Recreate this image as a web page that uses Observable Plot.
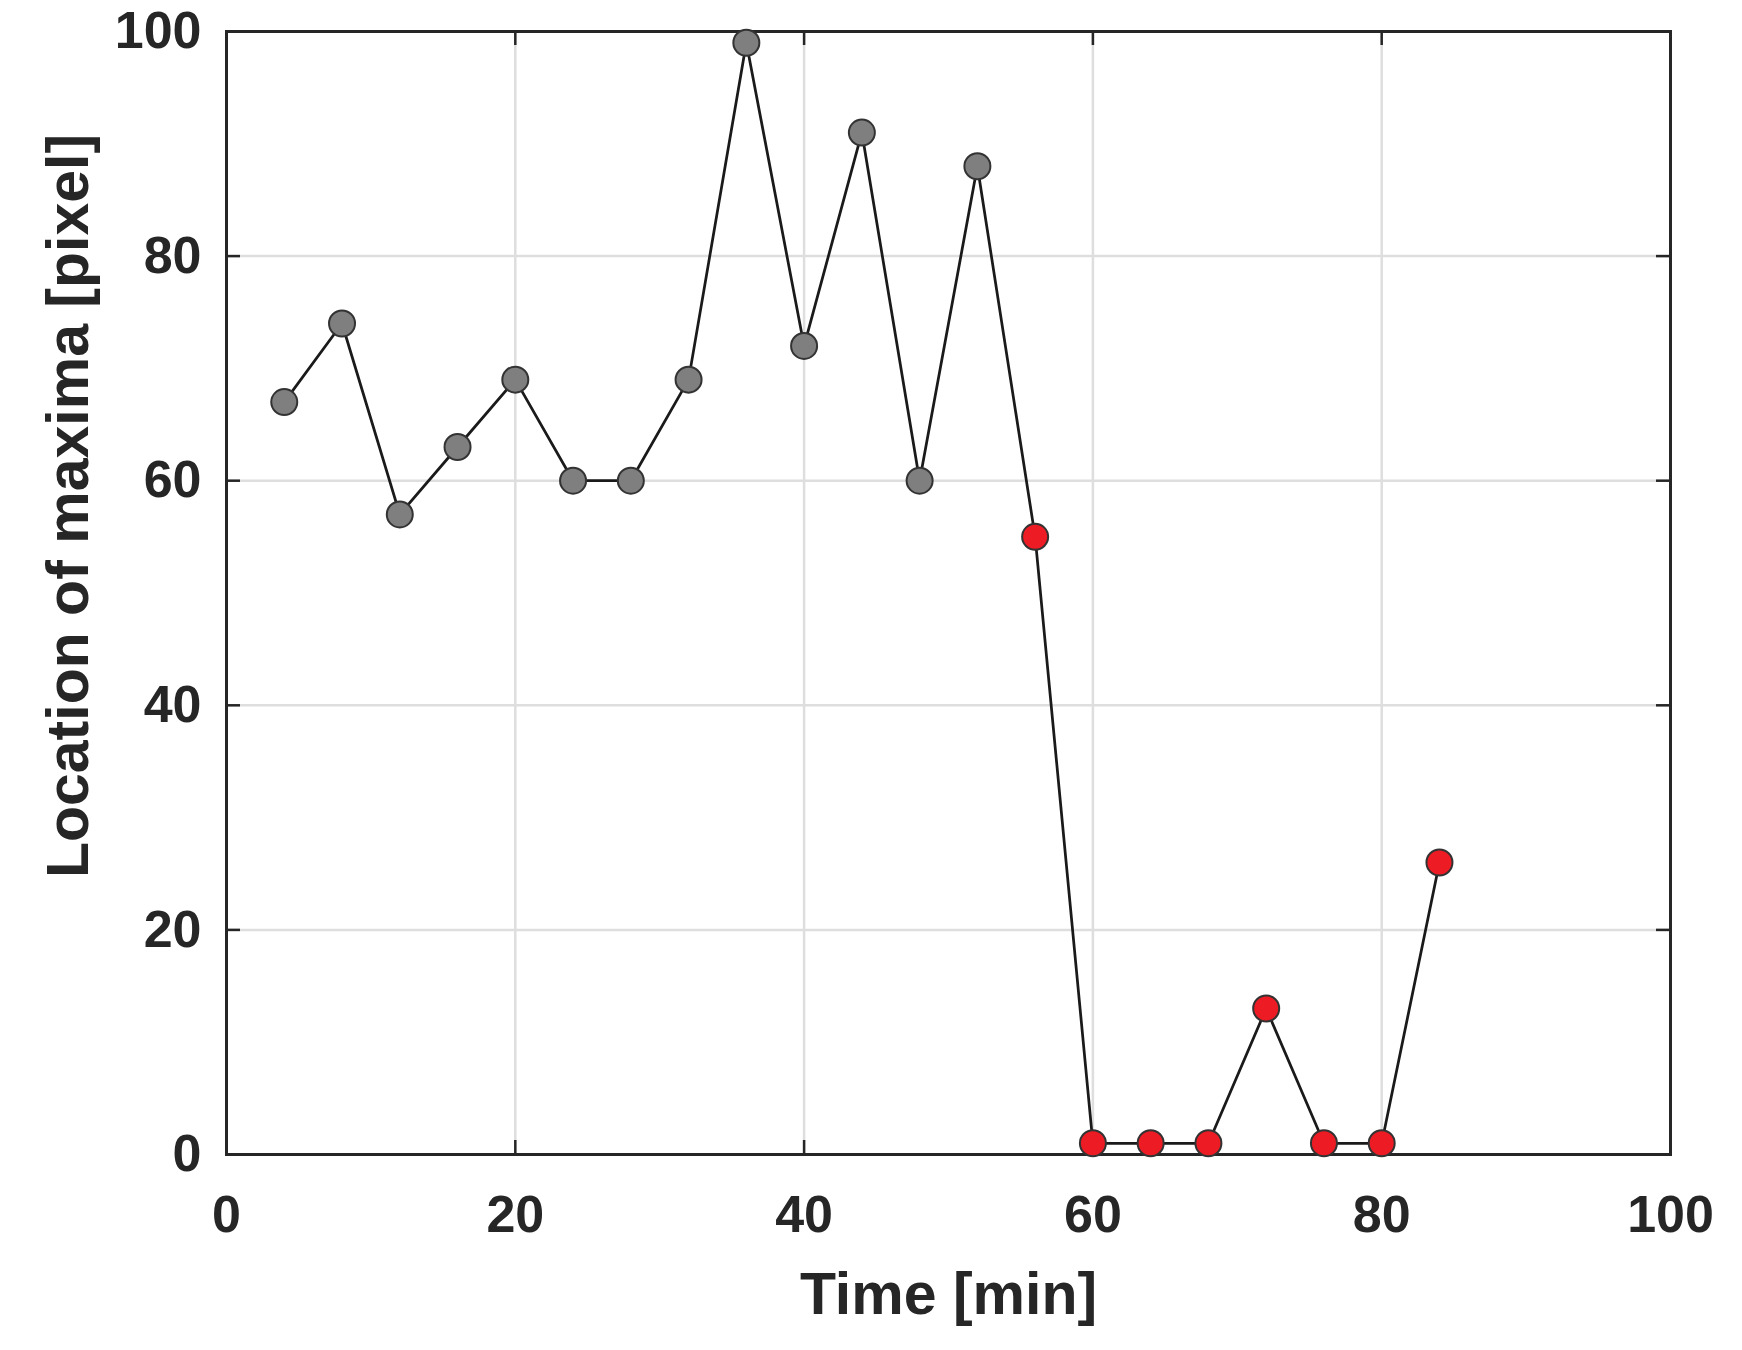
<!DOCTYPE html>
<html>
<head>
<meta charset="utf-8">
<script src="https://cdn.jsdelivr.net/npm/d3@7"></script>
<script src="https://cdn.jsdelivr.net/npm/@observablehq/plot@0.6"></script>
<style>
  html, body { margin: 0; padding: 0; background: #ffffff; }
  #chart svg { display: block; }
</style>
</head>
<body>
<div id="chart"></div>
<script>
// ---- data ----
const times  = [4, 8, 12, 16, 20, 24, 28, 32, 36, 40, 44, 48, 52, 56, 60, 64, 68, 72, 76, 80, 84];
const values = [67, 74, 57, 63, 69, 60, 60, 69, 99, 72, 91, 60, 88, 55, 1, 1, 1, 13, 1, 1, 26];
const phases = ["before","before","before","before","before","before","before","before","before","before","before","before","before",
                "after","after","after","after","after","after","after","after"];
const xTicks = [0, 20, 40, 60, 80, 100];
const yTicks = [0, 20, 40, 60, 80, 100];
const xLabel = "Time [min]";
const yLabel = "Location of maxima [pixel]";

const data = times.map((t, i) => ({t, v: values[i], phase: phases[i]}));

const W = 1742, H = 1350;
const mL = 226, mR = 72, mT = 31, mB = 196;
const pw = W - mL - mR, ph = H - mT - mB;
const ink = "#262626";

const chart = Plot.plot({
  width: W,
  height: H,
  marginLeft: mL,
  marginRight: mR,
  marginTop: mT,
  marginBottom: mB,
  style: {
    fontFamily: "'Liberation Sans', Arial, sans-serif",
    fontWeight: "bold",
    color: ink,
    background: "#ffffff",
    overflow: "visible"
  },
  x: {domain: [0, 100]},
  y: {domain: [0, 100]},
  marks: [
    Plot.ruleX(xTicks, {x: d => d, stroke: "#dedede", strokeWidth: 2.5}),
    Plot.ruleY(yTicks, {y: d => d, stroke: "#dedede", strokeWidth: 2.5}),
    // inward ticks on all four sides
    Plot.tickY(yTicks, {y: d => d, insetRight: pw - 14, stroke: ink, strokeWidth: 2.5}),
    Plot.tickY(yTicks, {y: d => d, insetLeft: pw - 14, stroke: ink, strokeWidth: 2.5}),
    Plot.tickX(xTicks, {x: d => d, insetBottom: ph - 14, stroke: ink, strokeWidth: 2.5}),
    Plot.tickX(xTicks, {x: d => d, insetTop: ph - 14, stroke: ink, strokeWidth: 2.5}),
    Plot.frame({stroke: ink, strokeWidth: 3}),
    Plot.axisX(xTicks, {tickSize: 0, tickPadding: 41, fontSize: 52, label: null}),
    Plot.axisY(yTicks, {tickSize: 0, tickPadding: 25, fontSize: 52, label: null}),
    Plot.line(data, {x: "t", y: "v", stroke: "#1a1a1a", strokeWidth: 2.75}),
    Plot.dot(data, {filter: d => d.phase === "before", x: "t", y: "v", r: 13, fill: "#7f7f7f", stroke: "#333333", strokeWidth: 2}),
    Plot.dot(data, {filter: d => d.phase === "after", x: "t", y: "v", r: 13, fill: "#ed1c24", stroke: "#333333", strokeWidth: 2}),
    Plot.text([xLabel], {text: d => d, frameAnchor: "bottom", textAnchor: "middle", lineAnchor: "bottom", dy: 159, fontSize: 59}),
    Plot.text([yLabel], {text: d => d, frameAnchor: "left", textAnchor: "middle", rotate: -90, dx: -157, dy: -87, fontSize: 59})
  ]
});

document.getElementById("chart").appendChild(chart);
</script>
</body>
</html>
